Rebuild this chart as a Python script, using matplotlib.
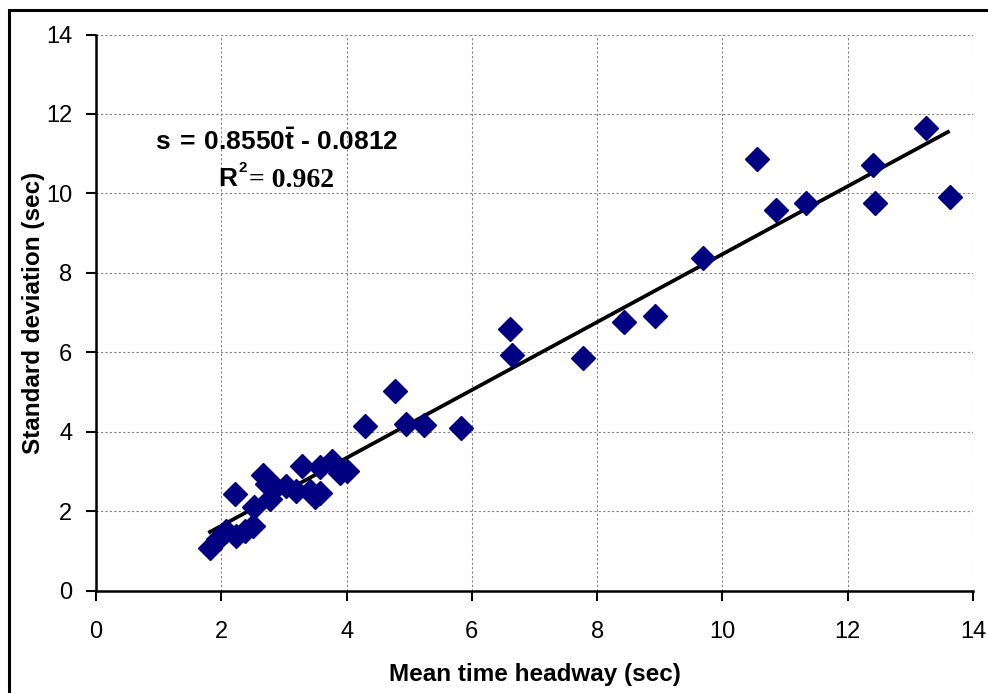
import matplotlib
matplotlib.use("Agg")
import matplotlib.pyplot as plt
from matplotlib.patches import Rectangle

# mean headway (sec) and standard deviation (sec) per site
mean_headway = [1.82, 1.95, 2.08, 2.22, 2.24, 2.38, 2.51, 2.52, 2.67, 2.73,
                2.78, 2.86, 3.04, 3.19, 3.29, 3.42, 3.50, 3.58, 3.58, 3.77,
                3.90, 4.00, 4.30, 4.78, 4.95, 5.24, 5.83, 6.61, 6.64, 7.78,
                8.43, 8.93, 9.69, 10.55, 10.86, 11.34, 12.41, 12.44, 13.25, 13.64]
std_dev = [1.08, 1.30, 1.50, 2.44, 1.37, 1.50, 1.62, 2.10, 2.92, 2.68,
           2.30, 2.60, 2.63, 2.50, 3.14, 2.50, 2.35, 2.45, 3.10, 3.26,
           2.95, 3.00, 4.14, 5.03, 4.20, 4.17, 4.10, 6.59, 5.92, 5.86,
           6.76, 6.92, 8.36, 10.86, 9.58, 9.75, 10.71, 9.75, 11.64, 9.91]

slope = 0.8550
intercept = -0.0812
fit_range = [1.82, 13.6]

plt.rcParams['font.family'] = ['Liberation Sans', 'DejaVu Sans']
plt.rcParams['mathtext.fontset'] = 'custom'
plt.rcParams['mathtext.bf'] = 'Liberation Sans:bold'
plt.rcParams['mathtext.rm'] = 'Liberation Sans:bold'

fig = plt.figure(figsize=(9.88, 6.93), dpi=100)
ax = fig.add_axes([96 / 988, 102.5 / 693, 877 / 988, 556 / 693])

ax.grid(True, color='#808080', linestyle=(0, (2, 2)), linewidth=0.8)
ax.set_axisbelow(True)

fit_y = [slope * x + intercept for x in fit_range]
ax.plot(fit_range, fit_y, color='black', linewidth=2.7, zorder=2)
ax.plot(mean_headway, std_dev, linestyle='none', marker='D', markersize=12,
        color='#000080', markeredgecolor='#000080', zorder=3)

ax.set_xlim(0, 14)
ax.set_ylim(0, 14)
ax.set_xticks(range(0, 15, 2))
ax.set_yticks(range(0, 15, 2))
ax.tick_params(labelsize=17, direction='out', length=7, width=1.5, color='black')
ax.tick_params(axis='x', pad=15)
ax.tick_params(axis='y', pad=10)
for side in ['top', 'right']:
    ax.spines[side].set_visible(False)
for side in ['left', 'bottom']:
    ax.spines[side].set_linewidth(1.8)

ax.set_xlabel('Mean time headway (sec)', fontsize=17.5, fontweight='bold', labelpad=14)
ax.set_ylabel('Standard deviation (sec)', fontsize=17.5, fontweight='bold', labelpad=1)

# regression equation
ax.text(2.88, 11.3, r'$\mathbf{s\,=\,0.8550\bar{t}}$' + ' - 0.0812', fontsize=19,
        fontweight='bold', ha='center', va='center')
ax.text(2.25, 10.37, 'R', fontsize=19, fontweight='bold', ha='right', va='center')
ax.text(2.27, 10.64, '2', fontsize=11, fontweight='bold', ha='left', va='center')
ax.text(2.45, 10.32, '= 0.962', fontsize=20, fontweight='bold', ha='left', va='center',
        family=['Liberation Serif', 'DejaVu Serif'])

# outer frame
fig.patches.append(Rectangle((9 / 988, -0.05), 1.05, 1.05 - 10 / 693,
                             transform=fig.transFigure, fill=False,
                             edgecolor='black', linewidth=2.2))

fig.savefig('out.png', dpi=100)
